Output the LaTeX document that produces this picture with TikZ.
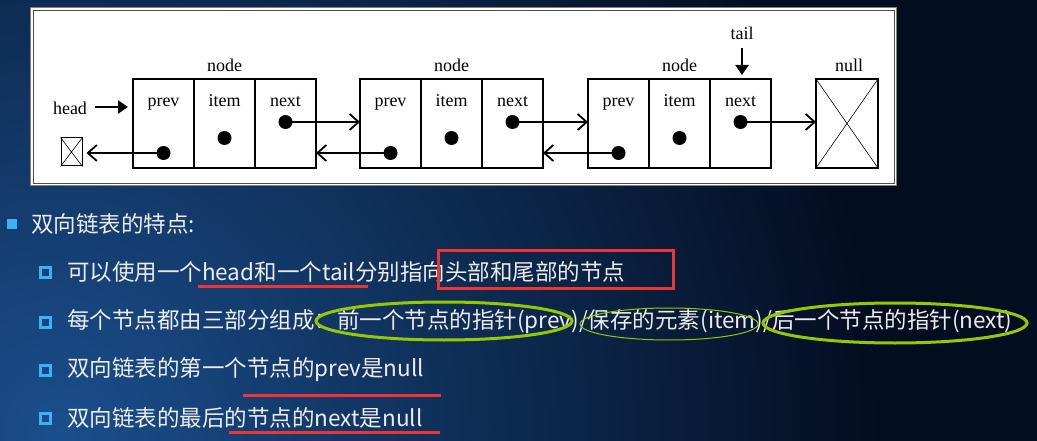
\documentclass[tikz,border=0pt]{standalone}
\usepackage{fontspec}
\setmainfont{Liberation Serif}
\newfontfamily\cjk{Noto Sans CJK SC}
\usetikzlibrary{arrows.meta}
\definecolor{bgnavy}{RGB}{3,13,32}
\definecolor{glow}{RGB}{26,78,140}
\definecolor{bulletblue}{RGB}{62,178,240}
\definecolor{markred}{RGB}{240,52,52}
\definecolor{ringgreen}{RGB}{150,200,0}
\definecolor{slide}{RGB}{236,236,236}
\tikzset{
  cell/.style={draw, line width=1.3pt, minimum width=61pt, minimum height=89pt, inner sep=0pt, outer sep=0pt},
  dot/.style={circle, fill=black, minimum size=14pt, inner sep=0pt},
  lbl/.style={font=\fontsize{18}{20}\selectfont, anchor=base},
  link/.style={line width=1.8pt, -{Straight Barb[length=9pt,width=16pt,line width=1.8pt]}},
  ptr/.style={line width=2.4pt, -{Triangle[length=10pt,width=13pt]}},
  txt/.style={anchor=west, text=slide, font=\cjk\fontsize{22.5}{26}\selectfont, inner sep=0pt},
  subbox/.style={draw=bulletblue, line width=3pt, minimum size=10pt, inner sep=0pt},
  uline/.style={draw=markred, line width=3pt},
  ring/.style={draw=ringgreen, line width=3pt}
}
\begin{document}
\begin{tikzpicture}[x=1pt,y=-1pt]
  \useasboundingbox (0,0) rectangle (1037,441);
  \fill[bgnavy] (0,0) rectangle (1037,441);
  \begin{scope}
    \clip (0,0) rectangle (1037,441);
    \shade[inner color=glow, outer color=bgnavy] (60,430) circle (820);
  \end{scope}

  % white panel with the list
  \node[draw=gray, fill=white, line width=1pt, minimum width=866pt, minimum height=178pt, anchor=north west] (frame) at (30,7) {};
  \draw[line width=0.8pt, black!70] ([shift={(3pt,-3pt)}]frame.north west) rectangle ([shift={(-3pt,3pt)}]frame.south east);

  \foreach \k/\x in {1/163.5,2/390.5,3/618.5} {
    \node[cell] (p\k) at (\x,123.5) {};
    \node[cell] (i\k) at (\x+61,123.5) {};
    \node[cell] (n\k) at (\x+122,123.5) {};
    \node[lbl] (tp\k) at (\x,107) {prev};
    \node[lbl] (ti\k) at (\x+61,107) {item};
    \node[lbl] (tn\k) at (\x+122,107) {next};
    \node[lbl] (nd\k) at (\x+61,72) {node};
    \node[dot] (dp\k) at (\x,153) {};
    \node[dot] (di\k) at (\x+61,138) {};
    \node[dot] (dn\k) at (\x+122,122) {};
  }

  \node[cell, minimum width=62pt] (nul) at (847,123.5) {};
  \draw[line width=0.6pt] (nul.north west) -- (nul.south east) (nul.north east) -- (nul.south west);
  \node[lbl] (tnul) at (849,72) {null};

  \node[draw, line width=1pt, minimum width=21pt, minimum height=28pt, inner sep=0pt] (hnul) at (71.5,152) {};
  \draw[line width=0.6pt] (hnul.north west) -- (hnul.south east) (hnul.north east) -- (hnul.south west);

  \node[lbl] (thead) at (70,115) {head};
  \node[lbl] (ttail) at (742,40) {tail};
  \draw[ptr, shorten <=4pt, shorten >=5pt] (thead.east |- 0,107) -- (p1.west |- 0,107);
  \draw[ptr, shorten <=4pt, shorten >=4pt] (ttail.south) -- (ttail.south |- n3.north);

  \foreach \from/\to in {dn1/p2,dn2/p3,dn3/nul}
    \draw[link] (\from.center) -- (\from -| \to.west);
  \foreach \from/\to in {dp2/n1,dp3/n2}
    \draw[link] (\from.center) -- (\from -| \to.east);
  \draw[link, shorten >=4pt] (dp1.center) -- (dp1 -| hnul.east);

  % slide text
  \node[fill=bulletblue, minimum size=10pt, inner sep=0pt] (b0) at (12,224) {};
  \node[txt] (t0) at (31,224) {双向链表的特点:};
  \node[subbox] (b1) at (45,272) {};
  \node[txt] (t1) at (67,272) {可以使用一个head和一个tail分别指向头部和尾部的节点};
  \node[subbox] (b2) at (45,322) {};
  \node[txt] (t2) at (67,322) {每个节点都由三部分组成：前一个节点的指针(prev)/保存的元素(item)/后一个节点的指针(next)};
  \node[subbox] (b3) at (45,370) {};
  \node[txt] (t3) at (67,370) {双向链表的第一个节点的prev是null};
  \node[subbox] (b4) at (45,418) {};
  \node[txt] (t4) at (67,418) {双向链表的最后的节点的next是null};

  \draw[uline] (198,286) -- (368,286);
  \draw[uline] (243,395) -- (441,395);
  \draw[uline] (229,432) -- (440,432);
  \draw[uline] (438,250) rectangle (673,288);
  \draw[ring] (444,321) ellipse [x radius=128, y radius=19];
  \draw[ringgreen, line width=1pt] (669,324) ellipse [x radius=89, y radius=16];
  \draw[ring] (895,323) ellipse [x radius=132, y radius=20];
\end{tikzpicture}
\end{document}
